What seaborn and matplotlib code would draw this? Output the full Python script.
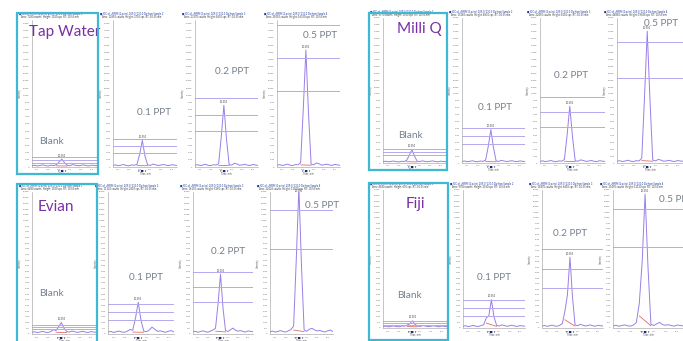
import matplotlib
matplotlib.use("Agg")
import matplotlib.pyplot as plt
import seaborn as sns
import pandas as pd
from matplotlib.patches import Rectangle

# ---------------- data ----------------
time_min = [10.00, 10.05, 10.10, 10.15, 10.20, 10.25, 10.30, 10.35, 10.40, 10.45,
            10.50, 10.55, 10.60, 10.65, 10.70, 10.75, 10.80, 10.85, 10.90, 10.95,
            11.00, 11.05, 11.10, 11.15, 11.20]

groups = ["Tap Water", "Milli Q", "Evian", "Fiji"]
panel_labels = ["Blank", "0.1 PPT", "0.2 PPT", "0.5 PPT"]

tap_blank = [180, 240, 150, 210, 300, 190, 140, 260, 200, 320, 700, 1100, 600, 240, 180, 330, 250, 170, 230, 290, 200, 150, 260, 210, 180]
tap_01 = [220, 300, 180, 260, 350, 210, 170, 300, 240, 380, 1800, 3700, 1500, 300, 220, 400, 310, 200, 280, 350, 240, 190, 320, 260, 210]
tap_02 = [250, 320, 200, 280, 380, 230, 190, 320, 260, 450, 4200, 8600, 3900, 340, 260, 520, 420, 240, 300, 380, 260, 210, 350, 280, 230]
tap_05 = [260, 330, 210, 290, 400, 250, 200, 340, 300, 600, 8000, 16300, 7500, 400, 300, 560, 450, 260, 320, 400, 280, 220, 370, 300, 250]

mq_blank = [200, 260, 170, 230, 280, 200, 160, 250, 210, 380, 1100, 1930, 1000, 260, 200, 310, 240, 180, 250, 300, 210, 170, 270, 220, 190]
mq_01 = [230, 290, 190, 250, 320, 220, 180, 290, 240, 420, 2400, 4830, 2200, 300, 230, 380, 290, 210, 270, 330, 240, 200, 300, 250, 220]
mq_02 = [240, 310, 200, 270, 360, 240, 190, 310, 260, 500, 4000, 8210, 3800, 330, 250, 450, 360, 230, 290, 360, 250, 210, 330, 270, 230]
mq_05 = [260, 330, 220, 290, 400, 260, 210, 340, 290, 700, 9500, 19080, 9000, 420, 300, 520, 420, 250, 310, 390, 270, 220, 360, 290, 250]

ev_blank = [150, 200, 120, 180, 230, 160, 130, 210, 380, 300, 650, 1010, 500, 220, 170, 260, 200, 140, 190, 240, 170, 130, 210, 180, 150]
ev_01 = [170, 230, 140, 200, 260, 180, 150, 240, 400, 330, 1400, 2800, 1200, 260, 200, 350, 600, 420, 230, 280, 200, 150, 250, 300, 180]
ev_02 = [180, 240, 150, 220, 280, 200, 160, 260, 350, 500, 2600, 5260, 2300, 300, 220, 380, 520, 330, 250, 300, 220, 170, 270, 240, 200]
ev_05 = [190, 260, 170, 230, 300, 210, 170, 280, 400, 700, 6500, 12900, 6000, 350, 240, 420, 500, 350, 270, 320, 230, 180, 290, 350, 210]

fj_blank = [120, 170, 100, 150, 190, 130, 110, 180, 160, 260, 380, 650, 330, 180, 140, 220, 170, 120, 160, 200, 150, 110, 180, 150, 130]
fj_01 = [150, 210, 130, 180, 230, 160, 140, 220, 300, 900, 1100, 2560, 1000, 240, 180, 280, 220, 160, 200, 250, 180, 140, 220, 190, 160]
fj_02 = [170, 230, 150, 200, 260, 180, 160, 250, 400, 1500, 3000, 6410, 2800, 280, 200, 330, 260, 180, 230, 280, 200, 160, 250, 210, 180]
fj_05 = [180, 250, 160, 220, 280, 200, 170, 270, 500, 2200, 6000, 12130, 5500, 330, 230, 380, 520, 300, 250, 300, 220, 170, 270, 230, 190]

traces = {
    "Tap Water": [tap_blank, tap_01, tap_02, tap_05],
    "Milli Q": [mq_blank, mq_01, mq_02, mq_05],
    "Evian": [ev_blank, ev_01, ev_02, ev_05],
    "Fiji": [fj_blank, fj_01, fj_02, fj_05],
}

tap_levels = [[1400, 1000, 600], [3960, 2940, 2000], [9650, 7300, 5000], [19800, 15150, 10600]]
mq_levels = [[2080, 1600, 1110], [5070, 3860, 2750], [9560, 7390, 5220], [22700, 17530, 12320]]
ev_levels = [[780, 580, 400], [2600, 1940, 1270], [5460, 4100, 2800], [14300, 10900, 7500]]
fj_levels = [[600, 450, 300], [2500, 1800, 1050], [7160, 5360, 3610], [14100, 10750, 7370]]

levels = {"Tap Water": tap_levels, "Milli Q": mq_levels, "Evian": ev_levels, "Fiji": fj_levels}

y_max = {"Tap Water": 20500, "Milli Q": 21000, "Evian": 12500, "Fiji": 12500}
y_step = {"Tap Water": 1000, "Milli Q": 1000, "Evian": 500, "Fiji": 500}
x_ticks = [10.1, 10.3, 10.5, 10.7, 10.9, 11.1]

# ---------------- layout (pixels) ----------------
W, H = 683, 341
layout = {
    "Tap Water": dict(top=20, bottom=167, xs=[(32, 97), (113, 177), (195, 258), (277, 340)],
                      box=(17, 13, 98, 174), title=(29, 32),
                      labels=[(39, 141), (137, 113), (215, 71), (303, 36)]),
    "Milli Q": dict(top=18, bottom=163, xs=[(383, 446), (462, 525), (540, 605), (617, 683)],
                    box=(369, 13, 447, 170), title=(397, 29),
                    labels=[(398, 136), (478, 108), (554, 76), (644, 23)]),
    "Evian": dict(top=192, bottom=334, xs=[(32, 96), (108, 174), (193, 253), (270, 333)],
                  box=(17, 184, 97, 343), title=(38, 207),
                  labels=[(39, 294), (129, 278), (211, 251), (305, 205)]),
    "Fiji": dict(top=190, bottom=328, xs=[(383, 447), (463, 525), (542, 603), (613, 683)],
                 box=(369, 183, 448, 340), title=(406, 204),
                 labels=[(397, 295), (477, 277), (553, 234), (659, 200)]),
}

# ---------------- style ----------------
sns.set_style("white")
plt.rcParams["font.family"] = ["Lato", "DejaVu Sans"]

trace_color = "#9a7fe6"
level_color = "#b4a9ef"
title_color = "#7a2fa6"
label_color = "#77808c"
box_color = "#3fb8d2"

fig = plt.figure(figsize=(W / 100, H / 100), dpi=100)
fig.patch.set_facecolor("white")


def fx(px):
    return px / W


def fy(py):
    return 1 - py / H


for g in groups:
    L = layout[g]
    top, bottom = L["top"], L["bottom"]
    for i, (x0, x1) in enumerate(L["xs"]):
        ax = fig.add_axes([fx(x0), fy(bottom), (x1 - x0) / W, (bottom - top) / H])
        ax.set_facecolor("white")
        vals = traces[g][i]
        df = pd.DataFrame({"time": time_min, "intensity": vals})
        sns.lineplot(data=df, x="time", y="intensity", ax=ax, color=trace_color, lw=0.7)
        for lv in levels[g][i]:
            ax.axhline(lv, color=level_color, lw=0.7)
        # integration baseline
        ax.plot([time_min[9], time_min[13]], [vals[9] * 0.5, vals[13] * 0.6],
                color="#e36a6a", lw=0.6)
        pk = vals.index(max(vals))
        ax.text(time_min[pk], min(vals[pk], y_max[g] * 0.985) + y_max[g] * 0.01,
                f"{time_min[pk]:.3f}", fontsize=1.8, ha="center", va="bottom", color="#333333")
        ax.text(time_min[pk], -0.012, "▾ ■ ▾", transform=ax.get_xaxis_transform(),
                fontsize=2.3, ha="center", va="top", color="#1f2a6b",
                family=["DejaVu Sans"])
        ax.set_xlim(time_min[0], time_min[-1])
        ax.set_ylim(0, y_max[g])
        ax.set_yticks(list(range(0, y_max[g] + 1, y_step[g])))
        ax.set_xticks(x_ticks)
        ax.tick_params(axis="both", labelsize=1.6, length=1, width=0.3, pad=0.8,
                       colors="#666666")
        ax.set_xlabel("Time, min", fontsize=1.8, labelpad=0.5, color="#555555")
        ax.set_ylabel("Intensity", fontsize=1.8, labelpad=1, color="#555555")
        for s in ["top", "right"]:
            ax.spines[s].set_visible(False)
        for s in ["left", "bottom"]:
            ax.spines[s].set_color("#9a9a9a")
            ax.spines[s].set_linewidth(0.4)
        # header text
        hx = x0 - 13
        fig.text(fx(hx), fy(top - 6), "■ XIC of +MRM (2 pairs): 209.0/130.0 Da from Sample " + str(i + 1),
                 fontsize=1.8, color="#1f3c9c", ha="left", va="center")
        fig.text(fx(hx + 2), fy(top - 3), "Area: " + str(sum(vals)) + " counts  Height: "
                 + str(max(vals)) + " cps  RT: " + f"{time_min[pk]:.2f}" + " min",
                 fontsize=1.8, color="#333333", ha="left", va="center")
        lx, ly = L["labels"][i]
        fig.text(fx(lx), fy(ly), panel_labels[i], fontsize=7.2, color=label_color,
                 ha="left", va="center")
    bx0, by0, bx1, by1 = L["box"]
    fig.patches.append(Rectangle((fx(bx0), fy(by1)), (bx1 - bx0) / W, (by1 - by0) / H,
                                 transform=fig.transFigure, fill=False,
                                 edgecolor=box_color, lw=1.6, zorder=10))
    tx, ty = L["title"]
    fig.text(fx(tx), fy(ty), g, fontsize=11, color=title_color, ha="left", va="center")

fig.savefig("out.png", dpi=100, facecolor="white")
